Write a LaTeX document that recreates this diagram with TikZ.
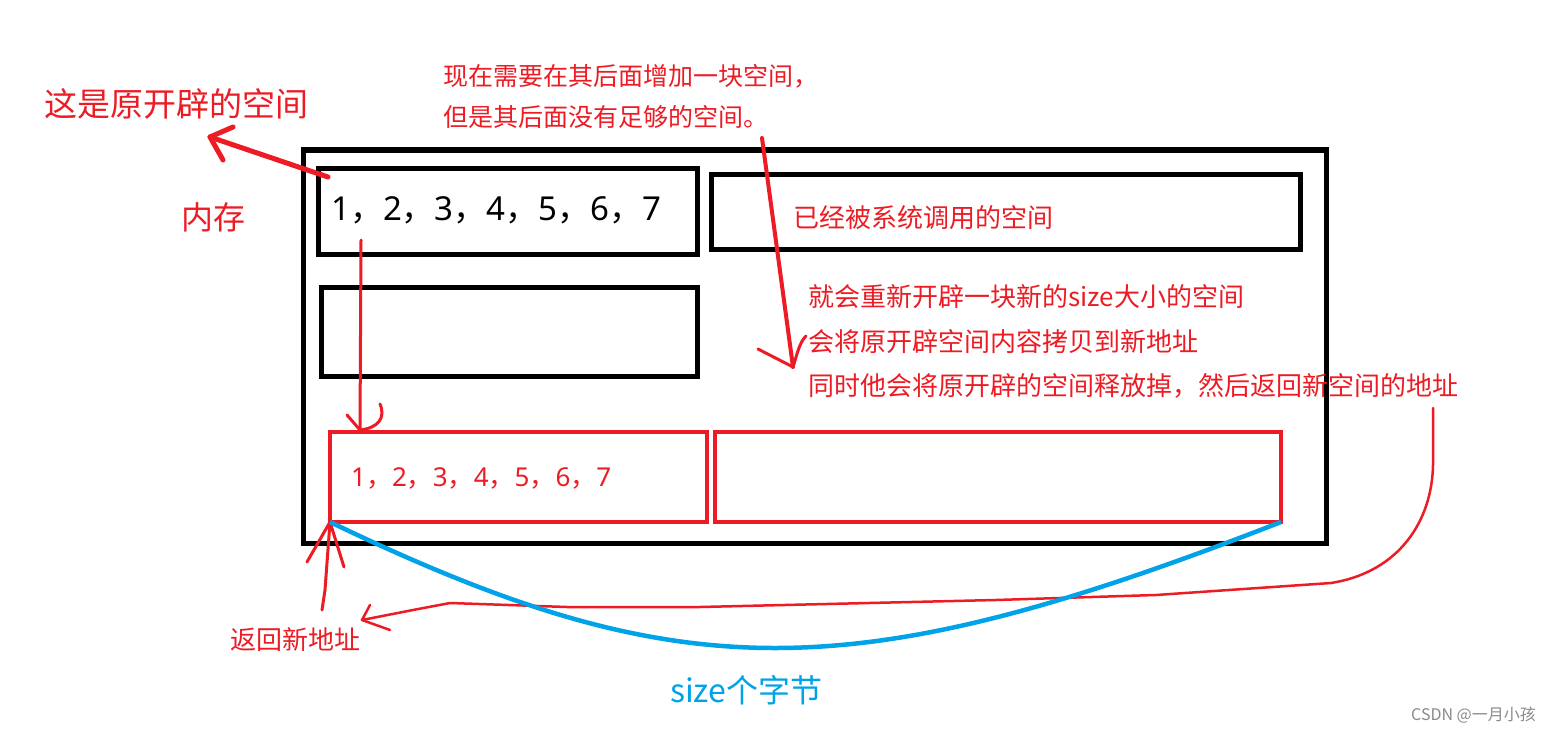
\documentclass[tikz,border=0pt]{standalone}
\usepackage{fontspec}
\setmainfont{Noto Sans CJK SC}
\newfontfamily\latf{Noto Sans}
\definecolor{pred}{HTML}{ED1C24}
\definecolor{pblue}{HTML}{00A2E8}
\definecolor{pgray}{HTML}{8A8A8A}
\newcommand{\numrow}{{\latf 1}，{\latf 2}，{\latf 3}，{\latf 4}，{\latf 5}，{\latf 6}，{\latf 7}}
\begin{document}
\begin{tikzpicture}[x=1pt,y=-1pt,
  blackbox/.style={draw=black,line width=5pt,inner sep=0pt,outer sep=0pt},
  redbox/.style={draw=pred,line width=4.5pt,inner sep=0pt,outer sep=0pt},
  lbl/.style={inner sep=0pt,anchor=west},
  fs/.style={font=\fontsize{#1}{#1}\selectfont},
  stroke/.style={draw=pred,line width=#1,line cap=round,line join=round},
]
\useasboundingbox[fill=white] (0,0) rectangle (1563,733);

% boxes
\node[blackbox,minimum width=1023pt,minimum height=393pt] (outer) at (814.5,346.5) {};
\node[blackbox,minimum width=379pt,minimum height=86pt] (box1) at (507.5,211) {};
\node[blackbox,minimum width=589pt,minimum height=75pt] (box2) at (1005.5,211.5) {};
\node[blackbox,minimum width=376pt,minimum height=89pt] (box3) at (509,331.5) {};
\node[redbox,minimum width=377pt,minimum height=90pt] (box4) at (518.5,477) {};
\node[redbox,minimum width=566pt,minimum height=90pt] (box5) at (998,477) {};

% texts
\node[lbl,fs=33,text=pred] (orig) at (44,104) {这是原开辟的空间};
\node[lbl,fs=32,text=pred] (mem) at (181,217) {内存};
\node[lbl,fs=25,text=pred] (q1) at (443,76) {现在需要在其后面增加一块空间，};
\node[lbl,fs=25,text=pred] (q2) at (443,117) {但是其后面没有足够的空间。};
\node[lbl,fs=26,text=pred] (used) at (793,218) {已经被系统调用的空间};
\node[lbl,fs=33,text=black] (nums1) at (331,210) {\numrow};
\node[lbl,fs=26,text=pred] (a1) at (808,297) {就会重新开辟一块新的size大小的空间};
\node[lbl,fs=26,text=pred] (a2) at (808,342) {会将原开辟空间内容拷贝到新地址};
\node[lbl,fs=26,text=pred] (a3) at (808,386) {同时他会将原开辟的空间释放掉，然后返回新空间的地址};
\node[lbl,fs=26,text=pred] (nums2) at (351,478) {\numrow};
\node[lbl,fs=26,text=pred] (ret) at (230,640) {返回新地址};
\node[lbl,fs=32,text=pblue] (sizelbl) at (670,690) {size个字节};
\node[lbl,fs=16,text=pgray] (csdn) at (1411,715) {CSDN @一月小孩};

% connector coordinates
\coordinate (s1) at (328,177);
\coordinate (t1) at (210,137);
\coordinate (s2) at (762,138);
\coordinate (t2) at (793,367);
\coordinate (s3) at (361,240);
\coordinate (t3) at (360,430);
\coordinate (s4) at (322,610);
\coordinate (s5) at (1433,408);
\coordinate (t5) at (362,620);

% arrow: box1 -> 这是原开辟的空间
\draw[stroke=5pt] (s1) -- (t1);
\draw[stroke=5pt] (233,127) -- (t1) -- (223,160);

% arrow: text -> new space
\draw[stroke=4pt] (s2) -- (t2);
\draw[stroke=3pt] (758,349) -- (t2) .. controls (797,355) and (799,343) .. (806,336);

% arrow: box1 -> box4
\draw[stroke=3pt] (s3) -- (t3);
\draw[stroke=3pt] (347,415) -- (t3) .. controls (378,428) and (386,418) .. (380,404);

% arrow: 返回新地址 up to box4 corner
\draw[stroke=3pt] (s4) -- (325,590) -- (box4.south west);
\draw[stroke=3pt] (307,562) -- (box4.south west) -- (344,567);

% long return curve
\draw[stroke=2.5pt] (s5) -- (1433,465) .. controls (1432,520) and (1400,572) .. (1331,583)
  -- (1156,595) -- (996,600) -- (700,607) -- (567,607) -- (450,603) -- (413,610) -- (t5);
\draw[stroke=2.5pt] (370,605) -- (t5) -- (390,630);

% size brace (blue curve)
\draw[pblue,line width=4.5pt] (box4.south west) .. controls (680,690) and (850,690) .. (box5.south east);
\end{tikzpicture}
\end{document}
